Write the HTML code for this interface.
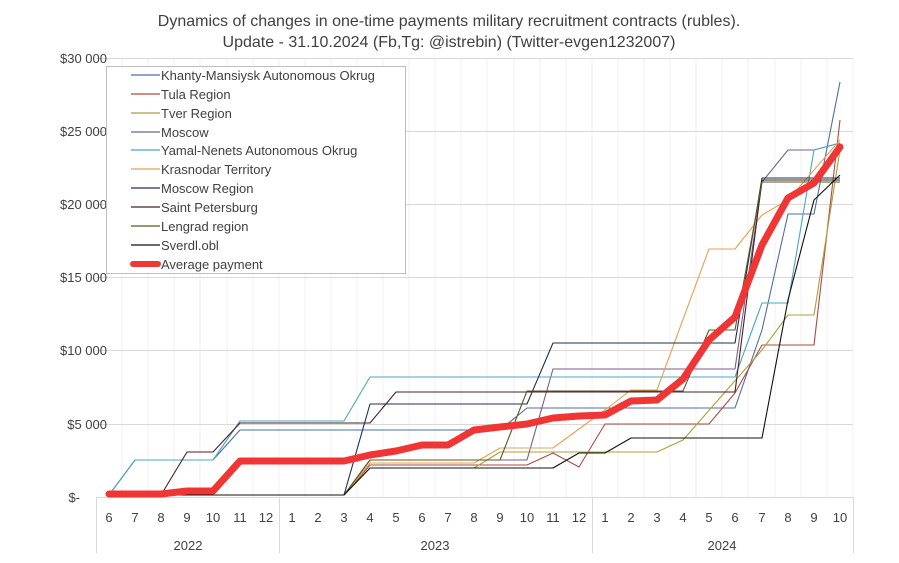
<!DOCTYPE html>
<html><head><meta charset="utf-8"><style>
body{margin:0;background:#fff;width:899px;height:558px;overflow:hidden}
svg text{font-family:"Liberation Sans",sans-serif;fill:#404040}
</style></head><body>
<svg width="899" height="558" viewBox="0 0 899 558" xmlns="http://www.w3.org/2000/svg">
<text x="449" y="26" font-size="16" text-anchor="middle">Dynamics of changes in one-time payments military recruitment contracts (rubles).</text>
<text x="449" y="47" font-size="16" text-anchor="middle">Update - 31.10.2024 (Fb,Tg: @istrebin) (Twitter-evgen1232007)</text>
<g stroke="#f0f0f0" stroke-width="1">
<path d="M122 58V497M148 58V497M174 58V497M200 58V497M227 58V497M253 58V497M279 58V497M305 58V497M331 58V497M357 58V497M383 58V497M409 58V497M435 58V497M461 58V497M487 58V497M514 58V497M540 58V497M566 58V497M592 58V497M618 58V497M644 58V497M670 58V497M696 58V497M722 58V497M748 58V497M775 58V497M801 58V497M827 58V497M853 58V497"/>
</g>
<g stroke="#d9d9d9" stroke-width="1">
<path d="M96 58.5H853M96 131.5H853M96 204.5H853M96 277.5H853M96 350.5H853M96 424.5H853M96 497.5H853"/>
<path d="M96.5 497V553M279.5 497V553M592.5 497V553M853.5 497V553"/>
</g>
<g font-size="13" text-anchor="end">
<text x="107" y="63">$30 000</text><text x="107" y="136">$25 000</text><text x="107" y="209">$20 000</text>
<text x="107" y="282">$15 000</text><text x="107" y="355">$10 000</text><text x="107" y="429">$5 000</text><text x="80" y="502">$-</text>
</g>
<g font-size="13" text-anchor="middle">
<text x="109" y="522">6</text><text x="135" y="522">7</text><text x="161" y="522">8</text><text x="187" y="522">9</text><text x="213" y="522">10</text><text x="240" y="522">11</text><text x="266" y="522">12</text>
<text x="292" y="522">1</text><text x="318" y="522">2</text><text x="344" y="522">3</text><text x="370" y="522">4</text><text x="396" y="522">5</text><text x="422" y="522">6</text><text x="448" y="522">7</text><text x="474" y="522">8</text><text x="500" y="522">9</text><text x="527" y="522">10</text><text x="553" y="522">11</text><text x="579" y="522">12</text>
<text x="605" y="522">1</text><text x="631" y="522">2</text><text x="657" y="522">3</text><text x="683" y="522">4</text><text x="709" y="522">5</text><text x="735" y="522">6</text><text x="762" y="522">7</text><text x="788" y="522">8</text><text x="814" y="522">9</text><text x="840" y="522">10</text>
<text x="188" y="550">2022</text><text x="435" y="550">2023</text><text x="722" y="550">2024</text>
</g>
<g fill="none" stroke-width="1.1" stroke-linejoin="round">
<polyline stroke="#4f6fa0" points="109,495 135,460 213,460 240,430 500,430 527,408 735,408 762,330 788,214 814,214 840,82"/>
<polyline stroke="#b04a40" points="109,495 344,495 370,465 527,465 553,453 579,467 605,424 709,424 735,393 762,345 814,345 840,120"/>
<polyline stroke="#a8a040" points="109,495 344,495 370,468 474,468 500,452 657,452 683,440 762,350 788,315 814,315 840,150"/>
<polyline stroke="#7a5f8a" points="109,495 344,495 370,460 527,460 553,369 735,369 762,182 788,150 814,150 840,143"/>
<polyline stroke="#4aa8c0" points="109,495 135,460 213,460 240,421 344,421 370,377 735,377 762,303 788,303 814,150 840,143"/>
<polyline stroke="#e8a050" points="109,495 344,495 370,463 474,463 500,448 553,448 605,410 631,390 657,390 709,249 735,249 762,215 788,200 840,140"/>
<polyline stroke="#1f3050" points="109,495 344,495 370,404 527,404 553,343 735,343 762,178 788,178 840,178"/>
<polyline stroke="#4a2020" points="109,495 161,495 187,452 213,452 240,423 370,423 396,392 735,392 762,180 840,180"/>
<polyline stroke="#5a5a20" points="109,495 344,495 370,460 500,460 527,391 683,391 709,330 735,330 762,182 840,182"/>
<polyline stroke="#101010" points="109,495 344,495 370,468 553,468 579,453 605,453 631,438 762,438 788,300 814,200 840,175"/>
</g>
<polyline fill="none" stroke="#f03535" stroke-width="7" stroke-linejoin="round" stroke-linecap="round" points="109,494 161,494 187,491 213,491 240,461 344,461 370,455 396,451 422,445 448,445 474,430 500,427 527,424 553,418 579,416 605,415 631,401 657,400 683,379 709,340 735,317 762,245 788,198 814,183 840,147"/>
<rect x="106.5" y="66.5" width="299" height="207" fill="#fff" stroke="#bfbfbf"/>
<g stroke-width="1.2">
<line x1="131" y1="75" x2="160" y2="75" stroke="#4f6fa0"/>
<line x1="131" y1="94" x2="160" y2="94" stroke="#b04a40"/>
<line x1="131" y1="113" x2="160" y2="113" stroke="#a8a040"/>
<line x1="131" y1="132" x2="160" y2="132" stroke="#7a5f8a"/>
<line x1="131" y1="150" x2="160" y2="150" stroke="#4aa8c0"/>
<line x1="131" y1="169" x2="160" y2="169" stroke="#e8a050"/>
<line x1="131" y1="188" x2="160" y2="188" stroke="#1f3050"/>
<line x1="131" y1="207" x2="160" y2="207" stroke="#4a2020"/>
<line x1="131" y1="226" x2="160" y2="226" stroke="#5a5a20"/>
<line x1="131" y1="245" x2="160" y2="245" stroke="#101010"/>
<line x1="133" y1="264" x2="158" y2="264" stroke="#f03535" stroke-width="6" stroke-linecap="round"/>
</g>
<g font-size="13">
<text x="161" y="80">Khanty-Mansiysk Autonomous Okrug</text>
<text x="161" y="99">Tula Region</text>
<text x="161" y="118">Tver Region</text>
<text x="161" y="137">Moscow</text>
<text x="161" y="155">Yamal-Nenets Autonomous Okrug</text>
<text x="161" y="174">Krasnodar Territory</text>
<text x="161" y="193">Moscow Region</text>
<text x="161" y="212">Saint Petersburg</text>
<text x="161" y="231">Lengrad region</text>
<text x="161" y="250">Sverdl.obl</text>
<text x="161" y="269">Average payment</text>
</g>
</svg>
</body></html>
